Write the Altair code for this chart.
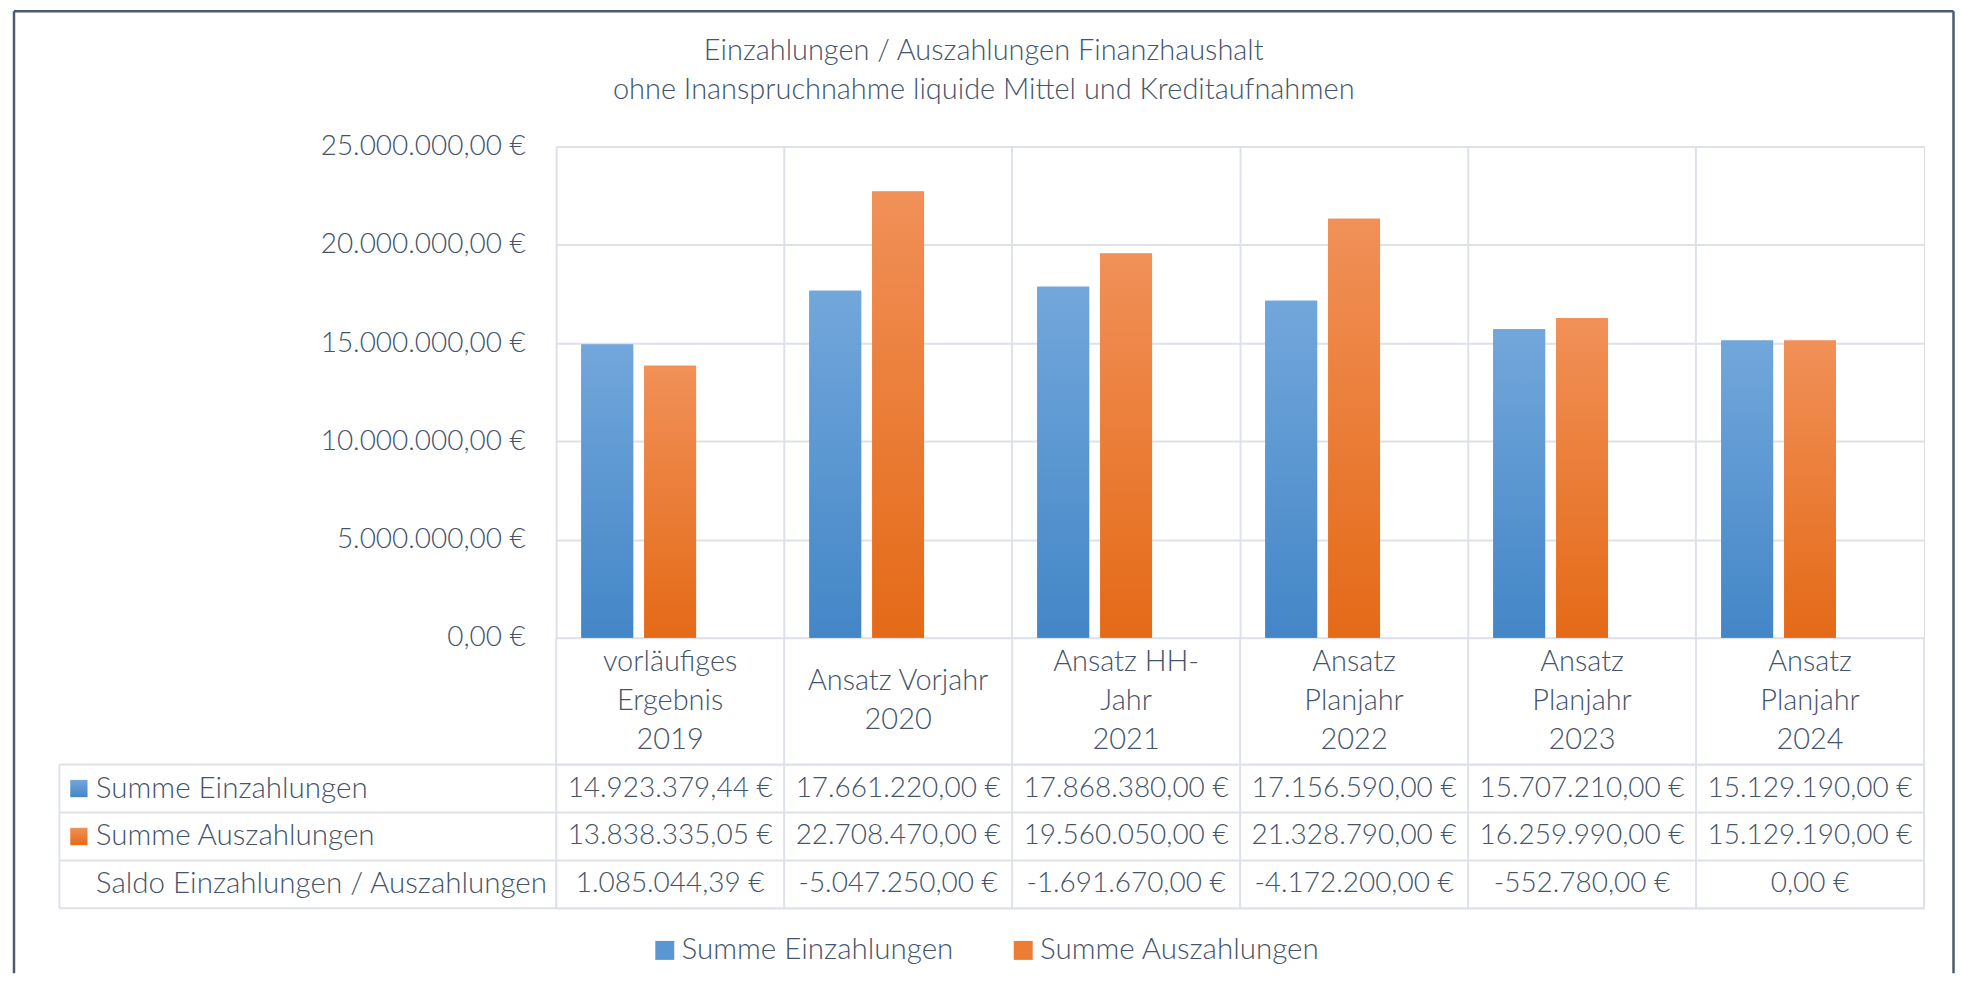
import altair as alt
import pandas as pd

# ---------------- data ----------------
categories = [
    "vorläufiges\nErgebnis\n2019",
    "Ansatz Vorjahr\n2020",
    "Ansatz HH-\nJahr\n2021",
    "Ansatz\nPlanjahr\n2022",
    "Ansatz\nPlanjahr\n2023",
    "Ansatz\nPlanjahr\n2024",
]
series_names = ["Summe Einzahlungen", "Summe Auszahlungen"]
row_labels = ["Summe Einzahlungen", "Summe Auszahlungen", "Saldo Einzahlungen / Auszahlungen"]
einzahlungen = [14923379.44, 17661220.00, 17868380.00, 17156590.00, 15707210.00, 15129190.00]
auszahlungen = [13838335.05, 22708470.00, 19560050.00, 21328790.00, 16259990.00, 15129190.00]
saldo = [1085044.39, -5047250.00, -1691670.00, -4172200.00, -552780.00, 0.00]
y_ticks = [0, 5000000, 10000000, 15000000, 20000000, 25000000]
title_lines = [
    "Einzahlungen / Auszahlungen Finanzhaushalt",
    "ohne Inanspruchnahme liquide Mittel und Kreditaufnahmen",
]

# ---------------- styling ----------------
FONT = "Lato"
FW = 300
FS_NUM = 28
FS_TXT = 29
FS_ROW = 29.6
TXT = "#44546a"
GRID = "#dde2ea"
FRAME = "#4e5a6e"
BLUE_TOP, BLUE_BOT = "#72a7db", "#4386c7"
ORA_TOP, ORA_BOT = "#f19058", "#e46a17"
SERIES3 = series_names + ["Saldo"]

W, H = 1370, 492
GAP = 127
ROW_H = 48.0
COL_W = W / 6.0
LINE_H = 39


def eur(v):
    s = f"{abs(v):,.2f}".replace(",", "X").replace(".", ",").replace("X", ".")
    return ("-" if v < 0 else "") + s + " €"


def grad(top, bot):
    return alt.LinearGradient(
        gradient="linear",
        stops=[alt.GradientStop(color=top, offset=0), alt.GradientStop(color=bot, offset=1)],
        x1=0, x2=0, y1=0, y2=1,
    )


# ---------------- top chart: bars ----------------
bars_df = pd.DataFrame(
    [{"cat": c, "series": series_names[0], "value": v} for c, v in zip(categories, einzahlungen)]
    + [{"cat": c, "series": series_names[1], "value": v} for c, v in zip(categories, auszahlungen)]
)

x_enc = alt.X(
    "cat:N", sort=categories, title=None,
    scale=alt.Scale(domain=categories, paddingInner=0, paddingOuter=0),
    axis=alt.Axis(labels=False, ticks=False, domain=False, grid=True, bandPosition=0,
                  gridColor=GRID, gridWidth=2),
)
xo_enc = alt.XOffset("series:N", scale=alt.Scale(domain=SERIES3, paddingInner=0.175, paddingOuter=0.4))
y_enc = alt.Y(
    "value:Q", title=None,
    scale=alt.Scale(domain=[0, 25000000], nice=False, zero=True),
    axis=alt.Axis(
        values=y_ticks, grid=True, gridColor=GRID, gridWidth=2, domain=False, ticks=False, tickSize=0,
        labelPadding=31, labelFontSize=FS_NUM, labelColor=TXT, labelFont=FONT, labelFontWeight=FW,
        labelLimit=0,
        labelExpr="datum.value == 0 ? '0,00 €' : format(datum.value / 1000000, 'd') + '.000.000,00 €'",
    ),
)

base = alt.Chart(bars_df).mark_bar().encode(
    x=x_enc, xOffset=xo_enc, y=y_enc,
    color=alt.Color(
        "series:N",
        scale=alt.Scale(domain=series_names, range=["#5a97d2", "#ec7d36"]),
        legend=alt.Legend(
            orient="none", legendX=94, legendY=790, direction="horizontal", title=None,
            symbolType="square", symbolSize=361, symbolStrokeWidth=0,
            labelFontSize=FS_ROW, labelColor=TXT, labelFont=FONT, labelFontWeight=FW,
            labelOffset=2, columnPadding=55, padding=0, labelLimit=0,
        ),
    ),
)
ov_e = alt.Chart(bars_df).transform_filter(alt.datum.series == series_names[0]).mark_bar(
    color=grad(BLUE_TOP, BLUE_BOT)).encode(x=x_enc, xOffset=xo_enc, y=y_enc)
ov_a = alt.Chart(bars_df).transform_filter(alt.datum.series == series_names[1]).mark_bar(
    color=grad(ORA_TOP, ORA_BOT)).encode(x=x_enc, xOffset=xo_enc, y=y_enc)

one = pd.DataFrame({"k": [0]})
fl, ft, fr, fb = 13 - 556, 8.5 - 144, 1955.5 - 556, 972 - 144
frame_l = alt.Chart(one).mark_rule(color=FRAME, strokeWidth=2.5).encode(
    x=alt.value(fl), y=alt.value(ft), y2=alt.value(fb))
frame_t = alt.Chart(one).mark_rule(color=FRAME, strokeWidth=2.5).encode(
    x=alt.value(fl), x2=alt.value(fr), y=alt.value(ft))
frame_r = alt.Chart(one).mark_rule(color=FRAME, strokeWidth=2.5).encode(
    x=alt.value(fr), y=alt.value(ft), y2=alt.value(fb))

top = alt.layer(base, ov_e, ov_a, frame_l, frame_t, frame_r).properties(width=W, height=H)

# ---------------- bottom chart: data table ----------------
HDR_LEFT = (58.5 - 556) / COL_W
LBL_TOP = -GAP / ROW_H
xs = alt.Scale(domain=[0, 6], nice=False, zero=False)
ys = alt.Scale(domain=[0, 3], nice=False, zero=False, reverse=True)

table_rows = [einzahlungen, auszahlungen, saldo]
cells_df = pd.DataFrame(
    [{"r": r, "i": i, "txt": eur(v)} for r, vals in enumerate(table_rows) for i, v in enumerate(vals)]
)
cat_df = pd.DataFrame({
    "i": list(range(6)),
    "label": categories,
    "nlines": [c.count("\n") + 1 for c in categories],
})
hdr_df = pd.DataFrame({"r": list(range(3)), "label": row_labels})
hl_df = pd.DataFrame({"y": [0, 1, 2, 3]})
vl_df = pd.DataFrame({"x": [0, 1, 2, 3, 4, 5, 6]})

cells = alt.Chart(cells_df).transform_calculate(
    xc="datum.i + 0.5", yc="datum.r + 0.5"
).mark_text(font=FONT, fontWeight=FW, fontSize=FS_NUM, color=TXT, baseline="middle", align="center").encode(
    x=alt.X("xc:Q", scale=xs, axis=None), y=alt.Y("yc:Q", scale=ys, axis=None), text="txt:N")

# vertical centre of the label block lies 64 px above the table; first line is shifted up
cat_lbl = alt.Chart(cat_df).transform_calculate(
    xc="datum.i + 0.5",
    yc=f"(-64 - (datum.nlines - 1) * {LINE_H / 2}) / {ROW_H}",
).mark_text(font=FONT, fontWeight=FW, fontSize=FS_TXT, color=TXT, baseline="middle", align="center",
            lineBreak="\n", lineHeight=LINE_H).encode(
    x=alt.X("xc:Q", scale=xs, axis=None), y=alt.Y("yc:Q", scale=ys, axis=None), text="label:N")

hdr = alt.Chart(hdr_df).transform_calculate(
    xc=f"{(95 - 556) / COL_W}", yc="datum.r + 0.5"
).mark_text(font=FONT, fontWeight=FW, fontSize=FS_ROW, color=TXT, baseline="middle", align="left").encode(
    x=alt.X("xc:Q", scale=xs, axis=None), y=alt.Y("yc:Q", scale=ys, axis=None), text="label:N")

sw_x = (78 - 556) / COL_W
sw_e = alt.Chart(one).transform_calculate(xc=f"{sw_x}", yc="0.5").mark_square(
    size=300, color=grad(BLUE_TOP, BLUE_BOT), opacity=1).encode(
    x=alt.X("xc:Q", scale=xs, axis=None), y=alt.Y("yc:Q", scale=ys, axis=None))
sw_a = alt.Chart(one).transform_calculate(xc=f"{sw_x}", yc="1.5").mark_square(
    size=300, color=grad(ORA_TOP, ORA_BOT), opacity=1).encode(
    x=alt.X("xc:Q", scale=xs, axis=None), y=alt.Y("yc:Q", scale=ys, axis=None))

hlines = alt.Chart(hl_df).transform_calculate(x0=f"{HDR_LEFT}", x1="6").mark_rule(
    color=GRID, strokeWidth=2).encode(
    x=alt.X("x0:Q", scale=xs, axis=None), x2="x1:Q", y=alt.Y("y:Q", scale=ys, axis=None))
vlines = alt.Chart(vl_df).transform_calculate(y0=f"{LBL_TOP}", y1="3").mark_rule(
    color=GRID, strokeWidth=2).encode(
    x=alt.X("x:Q", scale=xs, axis=None), y=alt.Y("y0:Q", scale=ys, axis=None), y2="y1:Q")
vleft = alt.Chart(one).transform_calculate(x0=f"{HDR_LEFT}", y0="0", y1="3").mark_rule(
    color=GRID, strokeWidth=2).encode(
    x=alt.X("x0:Q", scale=xs, axis=None), y=alt.Y("y0:Q", scale=ys, axis=None), y2="y1:Q")

bottom = alt.layer(hlines, vlines, vleft, sw_e, sw_a, cells, cat_lbl, hdr).properties(
    width=W, height=int(3 * ROW_H))

chart = alt.vconcat(top, bottom, spacing=GAP, bounds="flush").resolve_scale(
    x="independent", y="independent"
).properties(
    title=alt.TitleParams(
        text=title_lines, anchor="middle", fontSize=FS_TXT, font=FONT, fontWeight=FW, color=TXT,
        baseline="top", lineHeight=LINE_H, offset=-96,
    ),
    padding={"left": 4, "top": 0, "right": 0, "bottom": 0},
).configure_view(stroke=GRID, strokeWidth=2).configure(font=FONT)

chart.save("out.html", embed_options={"renderer": "svg", "actions": False})
